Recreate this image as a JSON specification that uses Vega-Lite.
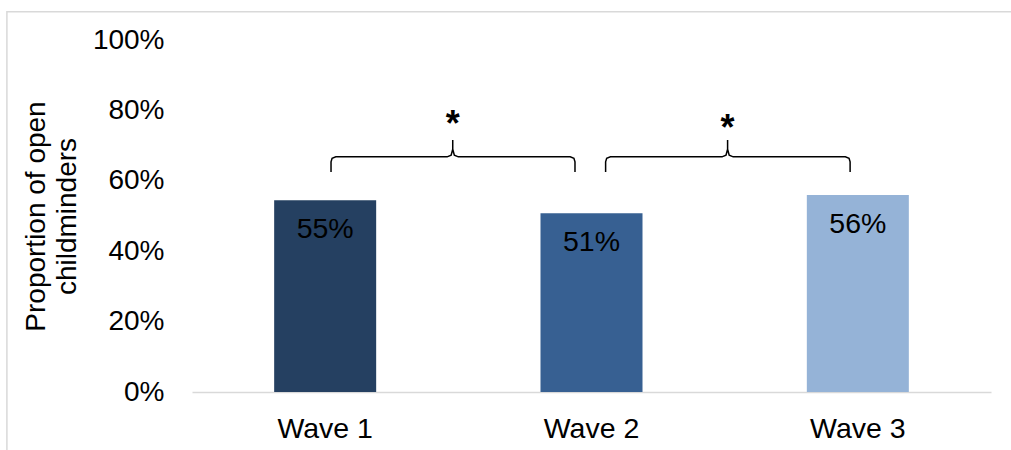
{
  "$schema": "https://vega.github.io/schema/vega-lite/v6.json",
  "autosize": "none",
  "width": 799,
  "height": 352,
  "padding": {"left": 192, "top": 40, "right": 20, "bottom": 58},
  "background": "white",
  "config": {
    "view": {"stroke": null},
    "font": "Liberation Sans",
    "axis": {"labelFont": "Liberation Sans", "titleFont": "Liberation Sans", "labelColor": "#000000", "titleColor": "#000000"}
  },
  "datasets": {
    "bars": [
      {"wave": "Wave 1", "value": 0.545, "label": "55%"},
      {"wave": "Wave 2", "value": 0.508, "label": "51%"},
      {"wave": "Wave 3", "value": 0.56, "label": "56%"}
    ],
    "braces": [
      {"b": 1, "o": 1, "x": 0.522, "y": 0.625},
      {"b": 1, "o": 2, "x": 0.522, "y": 0.654},
      {"b": 1, "o": 3, "x": 0.526, "y": 0.664},
      {"b": 1, "o": 4, "x": 0.540, "y": 0.668},
      {"b": 1, "o": 5, "x": 0.958, "y": 0.668},
      {"b": 1, "o": 6, "x": 0.973, "y": 0.673},
      {"b": 1, "o": 7, "x": 0.979, "y": 0.69},
      {"b": 1, "o": 8, "x": 0.979, "y": 0.716},
      {"b": 1, "o": 9, "x": 0.979, "y": 0.69},
      {"b": 1, "o": 10, "x": 0.985, "y": 0.673},
      {"b": 1, "o": 11, "x": 1.0, "y": 0.668},
      {"b": 1, "o": 12, "x": 1.420, "y": 0.668},
      {"b": 1, "o": 13, "x": 1.434, "y": 0.664},
      {"b": 1, "o": 14, "x": 1.438, "y": 0.654},
      {"b": 1, "o": 15, "x": 1.438, "y": 0.625},
      {"b": 2, "o": 1, "x": 1.553, "y": 0.625},
      {"b": 2, "o": 2, "x": 1.553, "y": 0.654},
      {"b": 2, "o": 3, "x": 1.557, "y": 0.664},
      {"b": 2, "o": 4, "x": 1.571, "y": 0.668},
      {"b": 2, "o": 5, "x": 1.990, "y": 0.668},
      {"b": 2, "o": 6, "x": 2.005, "y": 0.673},
      {"b": 2, "o": 7, "x": 2.011, "y": 0.69},
      {"b": 2, "o": 8, "x": 2.011, "y": 0.716},
      {"b": 2, "o": 9, "x": 2.011, "y": 0.69},
      {"b": 2, "o": 10, "x": 2.017, "y": 0.673},
      {"b": 2, "o": 11, "x": 2.032, "y": 0.668},
      {"b": 2, "o": 12, "x": 2.453, "y": 0.668},
      {"b": 2, "o": 13, "x": 2.467, "y": 0.664},
      {"b": 2, "o": 14, "x": 2.471, "y": 0.654},
      {"b": 2, "o": 15, "x": 2.471, "y": 0.625}
    ],
    "stars": [
      {"x": 0.979, "y": 0.727, "t": "*"},
      {"x": 2.011, "y": 0.716, "t": "*"}
    ],
    "frame": [
      {"x": -0.695, "x2": 3.3, "y": -0.3, "y2": 1.08}
    ]
  },
  "layer": [
    {
      "data": {"name": "bars"},
      "layer": [
        {
          "mark": {"type": "bar"},
          "encoding": {
            "x": {
              "field": "wave", "type": "nominal", "sort": null,
              "scale": {"paddingInner": 0.617, "paddingOuter": 0.3085},
              "axis": {"title": null, "labelAngle": 0, "labelFontSize": 28.5, "labelPadding": 22, "ticks": false, "domainColor": "#d9d9d9", "domainWidth": 1.5}
            },
            "y": {
              "field": "value", "type": "quantitative",
              "scale": {"domain": [0, 1], "nice": false},
              "axis": {"title": ["Proportion of open", "childminders"], "titleFontSize": 28, "titleFontWeight": "normal", "titleLineHeight": 31, "titlePadding": 11, "format": "~%", "values": [0, 0.2, 0.4, 0.6, 0.8, 1], "labelFontSize": 28, "labelPadding": 28, "ticks": false, "domain": false, "grid": false}
            },
            "color": {
              "field": "wave", "type": "nominal", "legend": null,
              "scale": {"domain": ["Wave 1", "Wave 2", "Wave 3"], "range": ["#254061", "#376092", "#95b3d7"]}
            }
          }
        },
        {
          "mark": {"type": "text", "fontSize": 28.5, "baseline": "middle", "align": "center", "dy": 29, "color": "#000000"},
          "encoding": {
            "x": {"field": "wave", "type": "nominal", "sort": null},
            "y": {"field": "value", "type": "quantitative"},
            "text": {"field": "label"}
          }
        }
      ]
    },
    {
      "layer": [
        {
          "data": {"name": "frame"},
          "mark": {"type": "rect", "fill": null, "stroke": "#d9d9d9", "strokeWidth": 1.5},
          "encoding": {
            "x": {"field": "x", "type": "quantitative", "scale": {"domain": [0, 3], "nice": false, "zero": false}, "axis": null},
            "x2": {"field": "x2"},
            "y": {"field": "y", "type": "quantitative"},
            "y2": {"field": "y2"}
          }
        },
        {
          "data": {"name": "braces"},
          "mark": {"type": "line", "color": "#000000", "strokeWidth": 1.5, "interpolate": "linear"},
          "encoding": {
            "x": {"field": "x", "type": "quantitative"},
            "y": {"field": "y", "type": "quantitative"},
            "detail": {"field": "b"},
            "order": {"field": "o"}
          }
        },
        {
          "data": {"name": "stars"},
          "mark": {"type": "text", "fontSize": 36, "fontWeight": "bold", "baseline": "alphabetic", "align": "center", "color": "#000000"},
          "encoding": {
            "x": {"field": "x", "type": "quantitative"},
            "y": {"field": "y", "type": "quantitative"},
            "text": {"field": "t"}
          }
        }
      ]
    }
  ],
  "resolve": {"scale": {"x": "independent"}, "axis": {"x": "independent"}}
}
